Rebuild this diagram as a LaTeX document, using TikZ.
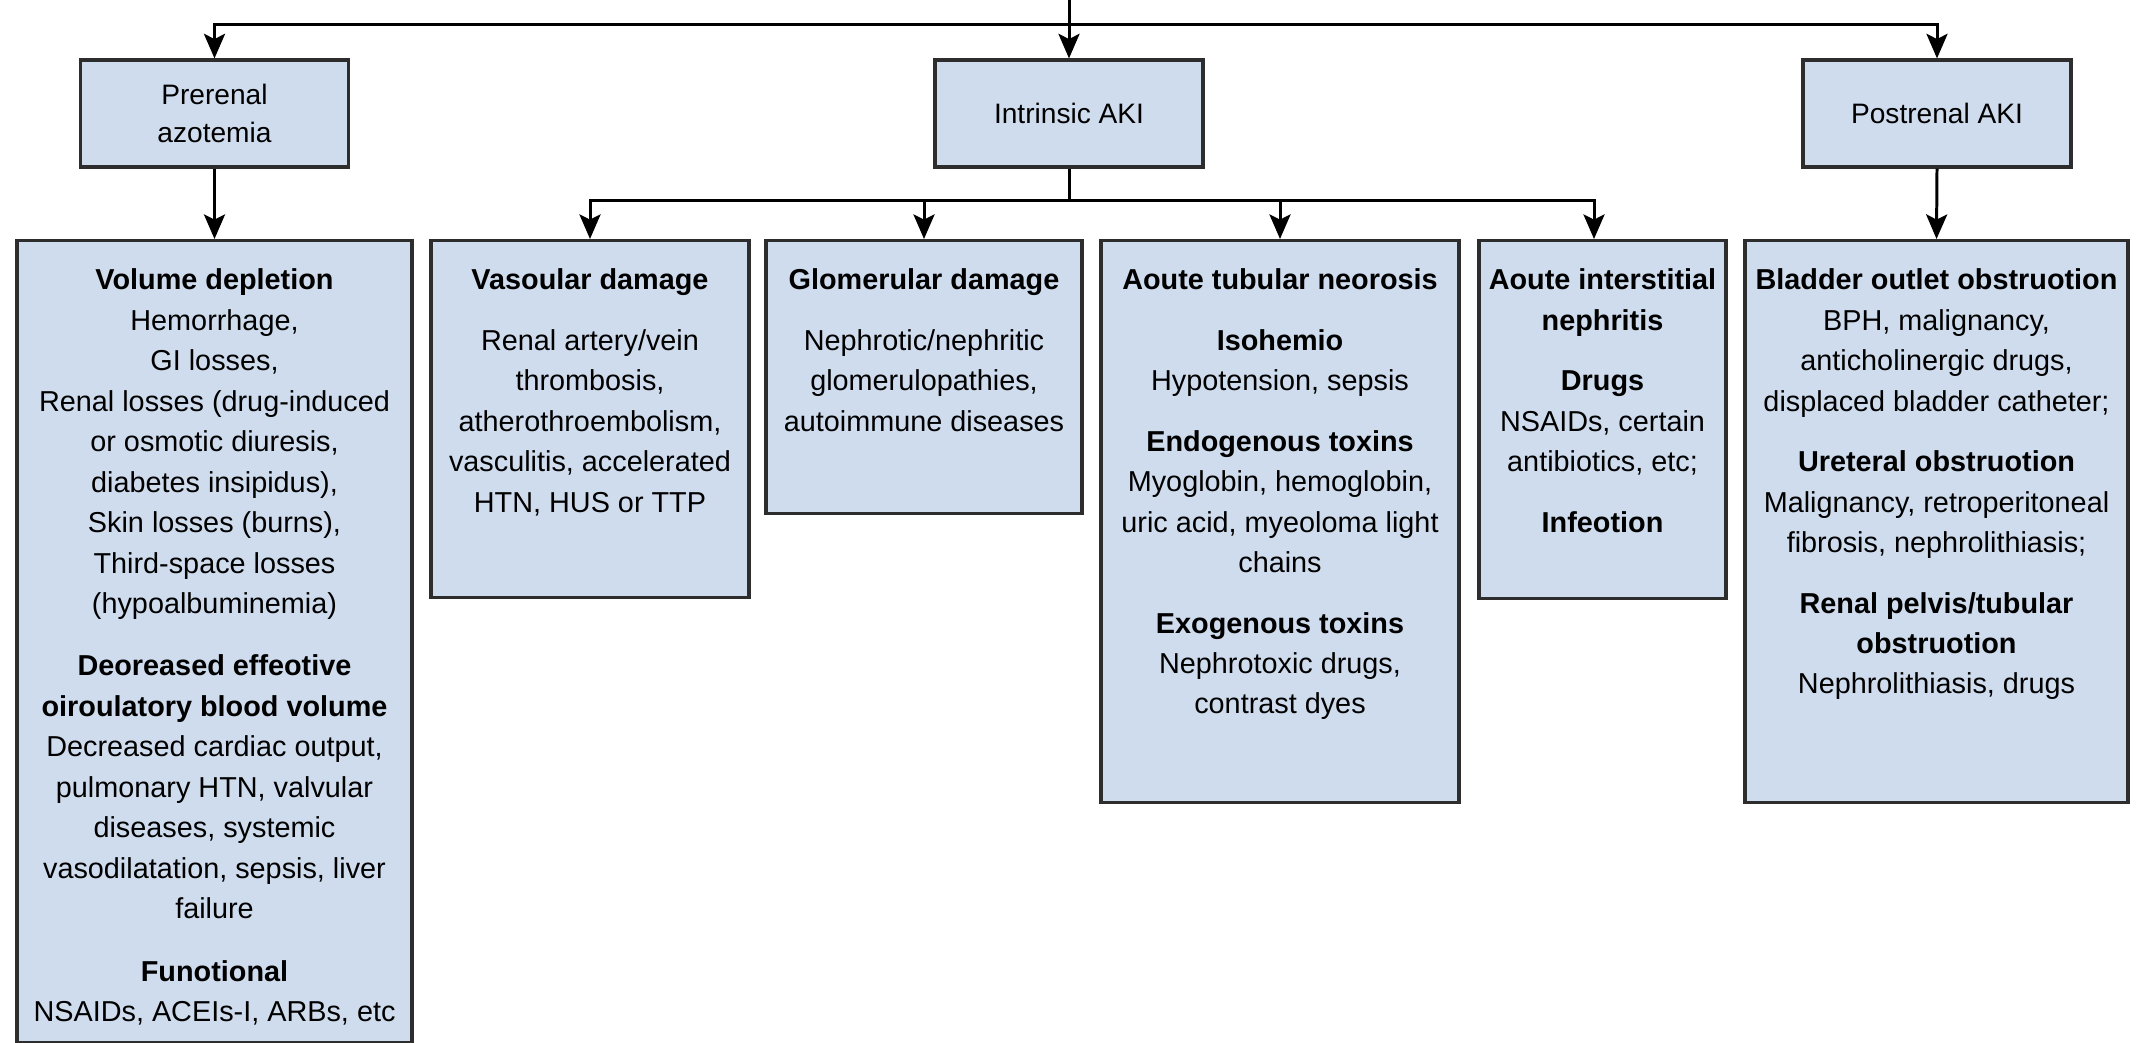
\documentclass[tikz,border=0pt]{standalone}
\usepackage{fontspec}
\setmainfont{Liberation Sans}
\usetikzlibrary{arrows.meta}
\usetikzlibrary{positioning}
\definecolor{boxblue}{RGB}{207,220,237}
\definecolor{boxline}{RGB}{45,45,45}

\begin{document}
\begin{tikzpicture}[box/.style={rectangle, draw=boxline, fill=boxblue, line width=0.9pt, minimum width=2.68cm, minimum height=1.07cm, align=center, font=\fontsize{8}{11}\selectfont}, cause/.style={rectangle, draw=boxline, fill=boxblue, line width=0.9pt, anchor=north}, txt/.style={align=center, inner sep=0pt, font=\fontsize{8.2}{11.52}\selectfont}, arrow/.style={line width=0.85pt, ->, >={Stealth[length=7pt, width=6pt, inset=1.5pt]}}, line/.style={line width=0.85pt}]
\useasboundingbox (0,0) rectangle (21.36,-10.43);
\node (PRERENAL) [box] at (2.145,-1.135) {Prerenal\\azotemia};
\node (INTRINSIC) [box] at (10.69,-1.135) {Intrinsic AKI};
\node (POSTRENAL) [box] at (19.37,-1.135) {Postrenal AKI};
\node (VOLUME) [cause, minimum width=3.95cm, minimum height=8.02cm] at (2.145,-2.39) {};
\node (VASCULAR) [cause, minimum width=3.18cm, minimum height=3.57cm] at (5.90,-2.39) {};
\node (GLOMERULAR) [cause, minimum width=3.16cm, minimum height=2.73cm] at (9.24,-2.39) {};
\node (ATN) [cause, minimum width=3.58cm, minimum height=5.62cm] at (12.80,-2.39) {};
\node (AIN) [cause, minimum width=2.47cm, minimum height=3.58cm] at (16.025,-2.39) {};
\node (OBSTRUCT) [cause, minimum width=3.83cm, minimum height=5.62cm] at (19.365,-2.39) {};
% texts of the boxes
\node (VOLUMETXT) [txt, below=0.29cm of VOLUME.north] {\textbf{Volume depletion}\\Hemorrhage,\\GI losses,\\Renal losses (drug-induced\\or osmotic diuresis,\\diabetes insipidus),\\Skin losses (burns),\\Third-space losses\\(hypoalbuminemia)\\[0.22cm]\textbf{Deoreased effeotive}\\\textbf{oiroulatory blood volume}\\Decreased cardiac output,\\pulmonary HTN, valvular\\diseases, systemic\\vasodilatation, sepsis, liver\\failure\\[0.22cm]\textbf{Funotional}\\NSAIDs, ACEIs-I, ARBs, etc};
\node (VASCULARTXT) [txt, below=0.29cm of VASCULAR.north] {\textbf{Vasoular damage}\\[0.2cm]Renal artery/vein\\thrombosis,\\atherothroembolism,\\vasculitis, accelerated\\HTN, HUS or TTP};
\node (GLOMERULARTXT) [txt, below=0.29cm of GLOMERULAR.north] {\textbf{Glomerular damage}\\[0.2cm]Nephrotic/nephritic\\glomerulopathies,\\autoimmune diseases};
\node (ATNTXT) [txt, below=0.29cm of ATN.north] {\textbf{Aoute tubular neorosis}\\[0.2cm]\textbf{Isohemio}\\Hypotension, sepsis\\[0.2cm]\textbf{Endogenous toxins}\\Myoglobin, hemoglobin,\\uric acid, myeoloma light\\chains\\[0.2cm]\textbf{Exogenous toxins}\\Nephrotoxic drugs,\\contrast dyes};
\node (AINTXT) [txt, below=0.29cm of AIN.north] {\textbf{Aoute interstitial}\\\textbf{nephritis}\\[0.2cm]\textbf{Drugs}\\NSAIDs, certain\\antibiotics, etc;\\[0.2cm]\textbf{Infeotion}};
\node (OBSTRUCTTXT) [txt, below=0.29cm of OBSTRUCT.north] {\textbf{Bladder outlet obstruotion}\\BPH, malignancy,\\anticholinergic drugs,\\displaced bladder catheter;\\[0.2cm]\textbf{Ureteral obstruotion}\\Malignancy, retroperitoneal\\fibrosis, nephrolithiasis;\\[0.2cm]\textbf{Renal pelvis/tubular}\\\textbf{obstruotion}\\Nephrolithiasis, drugs};
% connectors
\coordinate (ROOT) at (10.69,0);
\coordinate (SPLIT) at (10.69,-0.25);
\coordinate (BRANCH) at (10.69,-2.01);
\draw [arrow] (ROOT) -- (INTRINSIC.north);
\draw [arrow] (SPLIT) -| (PRERENAL.north);
\draw [arrow] (SPLIT) -| (POSTRENAL.north);
\draw [arrow] (PRERENAL.south) -- (VOLUME.north);
\draw [arrow] (POSTRENAL.south) -- (OBSTRUCT.north);
\draw [line] (INTRINSIC.south) -- (BRANCH);
\draw [arrow] (BRANCH) -| (VASCULAR.north);
\draw [arrow] (BRANCH) -| (GLOMERULAR.north);
\draw [arrow] (BRANCH) -| (ATN.north);
\draw [arrow] (BRANCH) -| ([xshift=-0.085cm]AIN.north);
\end{tikzpicture}
\end{document}
